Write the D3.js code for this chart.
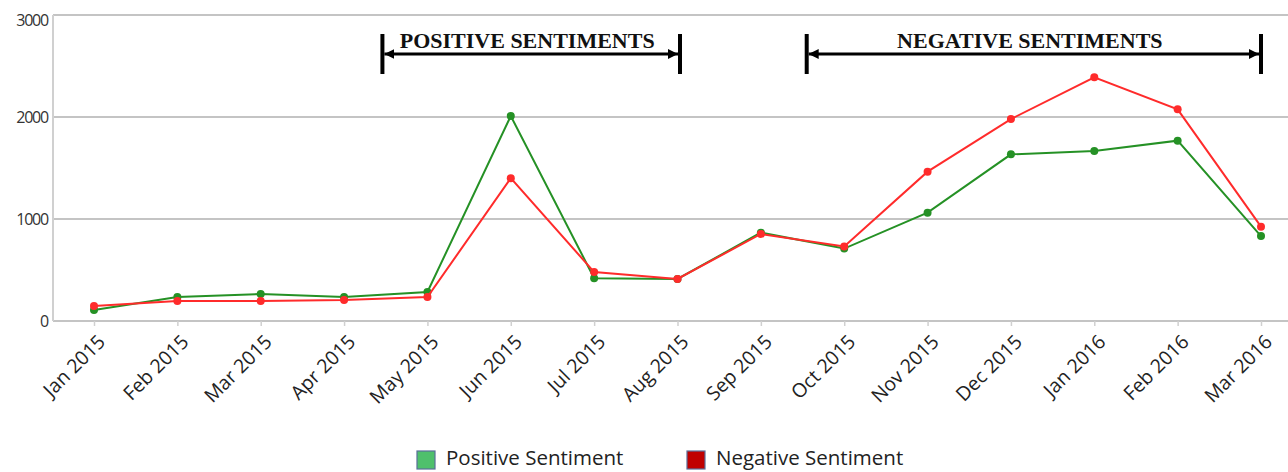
<!DOCTYPE html>
<html>
<head>
<meta charset="utf-8">
<script src="https://cdn.jsdelivr.net/npm/d3@7"></script>
<style>
  body { margin: 0; background: #fff; }
  svg { display: block; }
</style>
</head>
<body>
<svg id="chart" width="1288" height="472"></svg>
<script>
const width = 1288, height = 472;

// data
const months = [
    "Jan 2015", "Feb 2015", "Mar 2015", "Apr 2015", "May 2015", "Jun 2015", "Jul 2015",
    "Aug 2015", "Sep 2015", "Oct 2015", "Nov 2015", "Dec 2015", "Jan 2016", "Feb 2016", "Mar 2016"
];
const positive = [108, 235, 265, 235, 284, 2010, 420, 412, 866, 710, 1062, 1634, 1667, 1768, 833];
const negative = [147, 196, 196, 206, 235, 1400, 480, 412, 853, 730, 1464, 1980, 2389, 2075, 925];
const yTicks = [0, 1000, 2000, 3000];

// period brackets, as fractional category positions
const periods = [
    { label: "POSITIVE SENTIMENTS", from: 3.46, to: 7.03 },
    { label: "NEGATIVE SENTIMENTS", from: 8.55, to: 14 }
];

const series = [
    { name: "Positive Sentiment", values: positive, color: "#259125", swatch: "#4fc06c" },
    { name: "Negative Sentiment", values: negative, color: "#ff2b2b", swatch: "#c00000" }
];

const plot = { left: 53, right: 1288, top: 15, bottom: 321 };

const svg = d3.select("#chart");

const x = d3.scalePoint()
    .domain(months)
    .range([94, 1261]);

const y = d3.scaleLinear()
    .domain([0, 3000])
    .range([plot.bottom, plot.top]);

const xAt = i => x(months[0]) + i * x.step();

// grid lines
svg.append("g")
    .selectAll("line")
    .data(yTicks)
    .enter()
    .append("line")
    .attr("x1", plot.left)
    .attr("x2", plot.right)
    .attr("y1", d => y(d))
    .attr("y2", d => y(d))
    .attr("stroke", "#c4c4c4")
    .attr("stroke-width", 2);

// left axis line
svg.append("line")
    .attr("x1", plot.left).attr("x2", plot.left)
    .attr("y1", plot.top).attr("y2", plot.bottom)
    .attr("stroke", "#d0d0d0")
    .attr("stroke-width", 2);

// y labels
svg.append("g")
    .selectAll("text")
    .data(yTicks)
    .enter()
    .append("text")
    .attr("x", 48)
    .attr("y", d => y(d))
    .attr("dy", d => d === 3000 ? "0.7em" : "0.35em")
    .attr("text-anchor", "end")
    .style("font-family", "'Open Sans', sans-serif")
    .style("font-size", "16px")
    .style("letter-spacing", "-1.2px")
    .style("fill", "#333")
    .text(d => d);

// x axis ticks + labels
const xAxis = svg.append("g")
    .attr("transform", `translate(0,${plot.bottom})`)
    .call(d3.axisBottom(x).tickSize(5).tickSizeOuter(0));

xAxis.select(".domain").remove();
xAxis.selectAll(".tick line")
    .attr("stroke", "#d0d0d0")
    .attr("stroke-width", 1.5);
xAxis.selectAll(".tick text")
    .attr("y", 0)
    .attr("dy", 0)
    .attr("transform", "translate(12,22) rotate(-45)")
    .attr("text-anchor", "end")
    .style("font-family", "'Open Sans', sans-serif")
    .style("font-size", "19.5px")
    .style("fill", "#222");

// lines and markers
const line = d3.line()
    .x((d, i) => x(months[i]))
    .y(d => y(d));

series.forEach(s => {
    const g = svg.append("g");
    g.append("path")
        .datum(s.values)
        .attr("fill", "none")
        .attr("stroke", s.color)
        .attr("stroke-width", 2)
        .attr("d", line);
    g.selectAll("circle")
        .data(s.values)
        .enter()
        .append("circle")
        .attr("cx", (d, i) => x(months[i]))
        .attr("cy", d => y(d))
        .attr("r", 4)
        .attr("fill", s.color);
});

// period brackets
const defs = svg.append("defs");
defs.append("marker")
    .attr("id", "arrow")
    .attr("viewBox", "0 0 10 10")
    .attr("refX", 10).attr("refY", 5)
    .attr("markerWidth", 10).attr("markerHeight", 10)
    .attr("markerUnits", "userSpaceOnUse")
    .attr("orient", "auto-start-reverse")
    .append("path")
    .attr("d", "M0,0 L10,5 L0,10 Z")
    .attr("fill", "#000");

periods.forEach(p => {
    const x0 = xAt(p.from), x1 = xAt(p.to);
    const g = svg.append("g");
    [x0, x1].forEach(xx => {
        g.append("line")
            .attr("x1", xx).attr("x2", xx)
            .attr("y1", 34).attr("y2", 74)
            .attr("stroke", "#000")
            .attr("stroke-width", 4);
    });
    g.append("line")
        .attr("x1", x0 + 2).attr("x2", x1 - 2)
        .attr("y1", 54).attr("y2", 54)
        .attr("stroke", "#000")
        .attr("stroke-width", 3)
        .attr("marker-start", "url(#arrow)")
        .attr("marker-end", "url(#arrow)");
    g.append("text")
        .attr("x", (x0 + x1) / 2 - 4)
        .attr("y", 48)
        .attr("text-anchor", "middle")
        .style("font-family", "'Liberation Serif', 'Times New Roman', serif")
        .style("font-weight", "bold")
        .style("font-size", "22px")
        .style("fill", "#111")
        .text(p.label);
});

// legend
const legendX = [417, 687];
const legend = svg.append("g");
series.forEach((s, i) => {
    legend.append("rect")
        .attr("x", legendX[i]).attr("y", 451)
        .attr("width", 18).attr("height", 18)
        .attr("fill", s.swatch)
        .attr("stroke", "#5a6e9a")
        .attr("stroke-width", 1.2);
    legend.append("text")
        .attr("x", legendX[i] + 29)
        .attr("y", 465)
        .style("font-family", "'Open Sans', sans-serif")
        .style("font-size", "20.5px")
        .style("fill", "#222")
        .text(s.name);
});
</script>
</body>
</html>
